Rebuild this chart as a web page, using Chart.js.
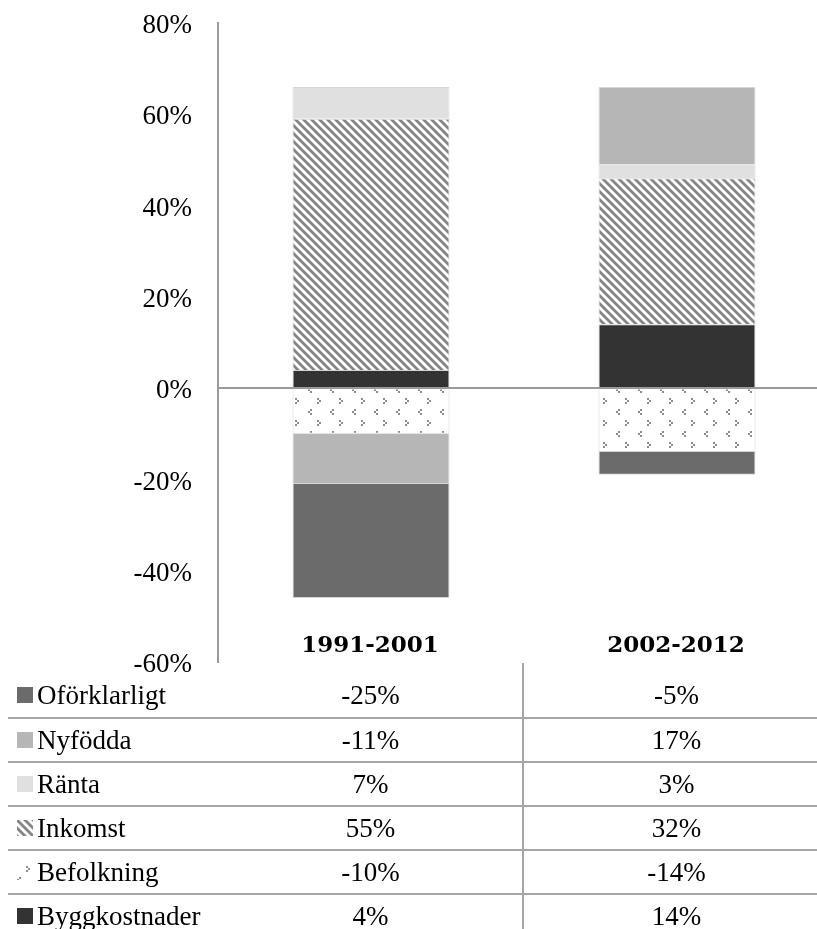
<!DOCTYPE html>
<html>
<head>
<meta charset="utf-8">
<script src="https://cdn.jsdelivr.net/npm/chart.js@4"></script>
<style>
  body { margin: 0; width: 817px; height: 929px; overflow: hidden; background: #fff; }
  #wrap { position: relative; width: 830px; height: 929px; }
  #grafico { position: absolute; left: 0; top: 0; }
  .periodo { position: absolute; top: 626px; height: 36px; line-height: 36px; width: 300px; text-align: center;
             font-family: 'DejaVu Serif'; font-weight: bold; font-size: 23px; color: #000; }
  #tabla { position: absolute; left: 0; top: 673px; width: 830px; height: 256px; background: #fff;
           font-family: 'Liberation Serif'; font-size: 27px; color: #000; }
  .fila { display: flex; height: 44px; box-sizing: border-box; align-items: center; }
  .fila + .fila { border-top: 2px solid #a6a6a6; margin-left: 8px; }
  .fila + .fila .etiqueta { padding-left: 9px; width: 210px; }
  .etiqueta { width: 218px; padding-left: 17px; box-sizing: border-box; display: flex; align-items: center; white-space: nowrap; }
  .etiqueta canvas { margin-right: 4px; }
  .valor1 { width: 305px; text-align: center; }
  .valor2 { width: 307px; text-align: center; }
  #linea { position: absolute; left: 522px; top: 663px; width: 2px; height: 266px; background: #a6a6a6; }
</style>
</head>
<body>
<div id="wrap">
  <canvas id="grafico" width="830" height="690"></canvas>
  <div class="periodo" id="p0" style="left:220px"></div>
  <div class="periodo" id="p1" style="left:526px"></div>
  <div id="tabla"></div>
  <div id="linea"></div>
</div>
<script>
var periodos = ['1991-2001', '2002-2012'];
var byggkostnader = [4, 14];
var befolkning = [-10, -14];
var inkomst = [55, 32];
var ranta = [7, 3];
var nyfodda = [-11, 17];
var oforklarligt = [-25, -5];
var yTicks = [-60, -40, -20, 0, 20, 40, 60, 80];

function rayado()
{
  var c = document.createElement('canvas');
  c.width = 8; c.height = 8;
  var ctx = c.getContext('2d');
  ctx.fillStyle = '#fff';
  ctx.fillRect(0, 0, 8, 8);
  ctx.strokeStyle = '#858585';
  ctx.lineWidth = 2.8;
  for (var k = -1; k <= 1; k++) {
    ctx.beginPath();
    ctx.moveTo(k * 8 - 2, -2);
    ctx.lineTo(k * 8 + 10, 10);
    ctx.stroke();
  }
  return c;
}

function puntos()
{
  var c = document.createElement('canvas');
  c.width = 22; c.height = 22;
  var ctx = c.getContext('2d');
  ctx.fillStyle = '#fff';
  ctx.fillRect(0, 0, 22, 22);
  ctx.fillStyle = '#8c8c8c';
  // ">"
  ctx.fillRect(9, 2, 2, 2);
  ctx.fillRect(11, 4, 2, 2);
  ctx.fillRect(9, 6, 2, 2);
  // "<"
  ctx.fillRect(2, 13, 2, 2);
  ctx.fillRect(0, 15, 2, 2);
  ctx.fillRect(2, 17, 2, 2);
  return c;
}

var ctxG = document.getElementById('grafico').getContext('2d');
var patRayado = ctxG.createPattern(rayado(), 'repeat');
var patPuntos = ctxG.createPattern(puntos(), 'repeat');

// orden de apilado: de abajo hacia arriba
var series = [
  { label: 'Byggkostnader', data: byggkostnader, fill: '#333333', key: '#333333' },
  { label: 'Befolkning', data: befolkning, fill: patPuntos, key: 'puntos' },
  { label: 'Inkomst', data: inkomst, fill: patRayado, key: 'rayado' },
  { label: 'Ränta', data: ranta, fill: '#e0e0e0', key: '#e0e0e0' },
  { label: 'Nyfödda', data: nyfodda, fill: '#b6b6b6', key: '#b6b6b6' },
  { label: 'Oförklarligt', data: oforklarligt, fill: '#6b6b6b', key: '#6b6b6b' }
];

var datasets = [];
series.forEach(function(s){
  datasets.push({
    label: s.label,
    data: s.data,
    backgroundColor: s.fill,
    borderColor: 'rgba(210,210,210,0.9)',
    borderWidth: 1,
    barPercentage: 0.513,
    categoryPercentage: 1
  });
});

var grafico = new Chart(ctxG, {
  type: 'bar',
  data: { labels: periodos, datasets: datasets },
  options: {
    responsive: false,
    animation: false,
    layout: { padding: { top: 23, bottom: 28, left: 0, right: 0 } },
    plugins: { legend: { display: false }, tooltip: { enabled: false } },
    scales: {
      x: { stacked: true, display: false },
      y: {
        stacked: true,
        min: yTicks[0],
        max: yTicks[yTicks.length - 1],
        afterBuildTicks: function(scale){ scale.ticks = yTicks.map(function(v){ return { value: v }; }); },
        afterFit: function(scale){
          scale.width = 218;
          scale.paddingTop = 0;
          scale.paddingBottom = 0;
        },
        ticks: {
          padding: 26,
          labelOffset: 3,
          color: '#000',
          font: { family: 'Liberation Serif', size: 27 },
          callback: function(v){ return v + '%'; }
        },
        grid: {
          drawTicks: false,
          z: 1,
          lineWidth: 2,
          color: function(c){ return c.tick && c.tick.value === 0 ? '#9a9a9a' : 'rgba(0,0,0,0)'; }
        },
        border: { display: true, color: '#9a9a9a', width: 2, z: 1 }
      }
    }
  }
});

document.getElementById('p0').textContent = periodos[0];
document.getElementById('p1').textContent = periodos[1];

// tabla de datos (orden inverso)
var tabla = document.getElementById('tabla');
series.slice().reverse().forEach(function(s){
  var fila = document.createElement('div');
  fila.className = 'fila';
  var et = document.createElement('div');
  et.className = 'etiqueta';
  var k = document.createElement('canvas');
  k.width = 16; k.height = 16;
  var kc = k.getContext('2d');
  if (s.key === 'rayado') kc.fillStyle = kc.createPattern(rayado(), 'repeat');
  else if (s.key === 'puntos') kc.fillStyle = kc.createPattern(puntos(), 'repeat');
  else kc.fillStyle = s.key;
  kc.fillRect(0, 0, 16, 16);
  et.appendChild(k);
  et.appendChild(document.createTextNode(s.label));
  fila.appendChild(et);
  var v1 = document.createElement('div');
  v1.className = 'valor1';
  v1.textContent = s.data[0] + '%';
  var v2 = document.createElement('div');
  v2.className = 'valor2';
  v2.textContent = s.data[1] + '%';
  fila.appendChild(v1);
  fila.appendChild(v2);
  tabla.appendChild(fila);
});
</script>
</body>
</html>
